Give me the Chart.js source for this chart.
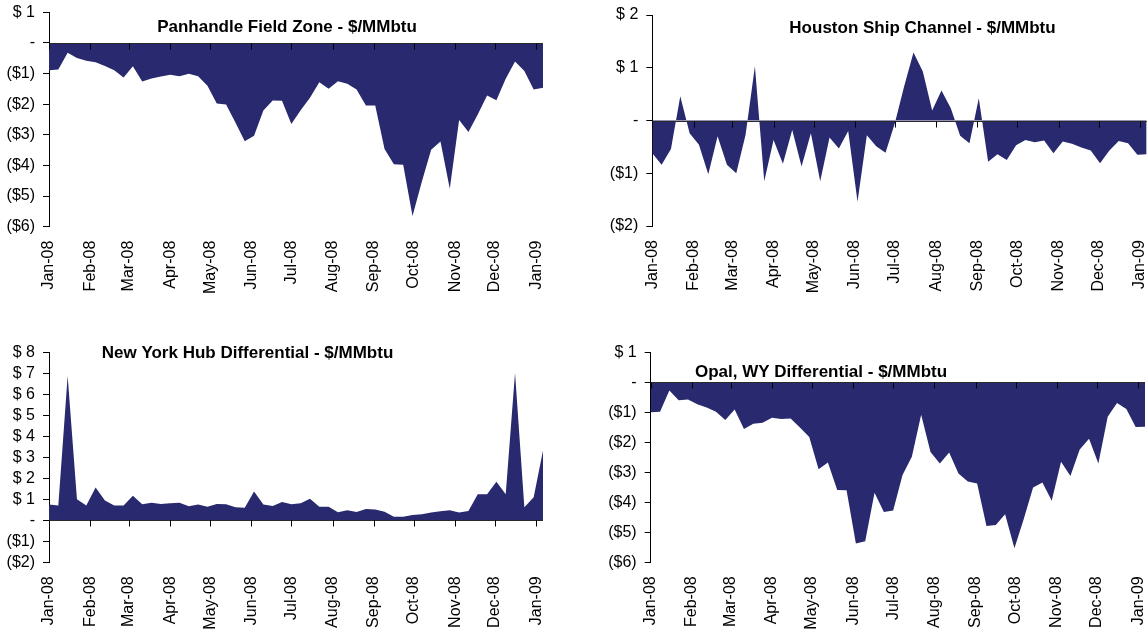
<!DOCTYPE html>
<html>
<head>
<meta charset="utf-8">
<script src="https://cdn.jsdelivr.net/npm/chart.js@4.4.1/dist/chart.umd.min.js"></script>
<style>
  html, body { margin: 0; padding: 0; background: #fff; }
  body { width: 1147px; height: 634px; position: relative; overflow: hidden; }
  canvas { position: absolute; }
</style>
</head>
<body>
<canvas id="panhandle"></canvas>
<canvas id="houston"></canvas>
<canvas id="nyhub"></canvas>
<canvas id="opal"></canvas>
<script>
// Weekly price differentials, $/MMbtu
const weekDates = [
  '2008-01-01','2008-01-08','2008-01-15','2008-01-22','2008-01-29',
  '2008-02-05','2008-02-12','2008-02-19','2008-02-26',
  '2008-03-04','2008-03-11','2008-03-18','2008-03-25',
  '2008-04-01','2008-04-08','2008-04-15','2008-04-22','2008-04-29',
  '2008-05-06','2008-05-13','2008-05-20','2008-05-27',
  '2008-06-03','2008-06-10','2008-06-17','2008-06-24',
  '2008-07-01','2008-07-08','2008-07-15','2008-07-22','2008-07-29',
  '2008-08-05','2008-08-12','2008-08-19','2008-08-26',
  '2008-09-02','2008-09-09','2008-09-16','2008-09-23','2008-09-30',
  '2008-10-07','2008-10-14','2008-10-21','2008-10-28',
  '2008-11-04','2008-11-11','2008-11-18','2008-11-25',
  '2008-12-02','2008-12-09','2008-12-16','2008-12-23','2008-12-30',
  '2009-01-06'
];

const monthDates = ['2008-01-01','2008-02-01','2008-03-01','2008-04-01','2008-05-01','2008-06-01',
  '2008-07-01','2008-08-01','2008-09-01','2008-10-01','2008-11-01','2008-12-01','2009-01-01'];
const monthLabels = ['Jan-08','Feb-08','Mar-08','Apr-08','May-08','Jun-08',
  'Jul-08','Aug-08','Sep-08','Oct-08','Nov-08','Dec-08','Jan-09'];

const panhandleValues = [
  -0.89,-0.87,-0.32,-0.49,-0.58,-0.63,-0.75,-0.89,-1.13,-0.76,
  -1.26,-1.16,-1.10,-1.04,-1.09,-1.01,-1.09,-1.40,-1.98,-2.01,
  -2.60,-3.21,-3.03,-2.21,-1.88,-1.89,-2.65,-2.20,-1.79,-1.28,
  -1.50,-1.25,-1.33,-1.52,-2.04,-2.04,-3.46,-3.96,-3.98,-5.65,
  -4.53,-3.49,-3.22,-4.76,-2.52,-2.91,-2.34,-1.72,-1.87,-1.17,
  -0.61,-0.92,-1.52,-1.46
];
const houstonValues = [
  -0.62,-0.84,-0.54,0.46,-0.24,-0.46,-1.02,-0.30,-0.84,-1.00,
  -0.27,1.03,-1.15,-0.37,-0.82,-0.18,-0.87,-0.24,-1.15,-0.32,
  -0.53,-0.20,-1.54,-0.28,-0.49,-0.61,-0.05,0.65,1.29,0.93,
  0.19,0.57,0.23,-0.29,-0.43,0.42,-0.78,-0.64,-0.75,-0.47,
  -0.37,-0.41,-0.38,-0.62,-0.40,-0.44,-0.51,-0.57,-0.81,-0.57,
  -0.39,-0.43,-0.65,-0.64
];
const nyHubValues = [
  0.75,0.70,6.87,1.00,0.70,1.56,0.94,0.70,0.70,1.17,
  0.76,0.84,0.78,0.81,0.84,0.67,0.75,0.65,0.78,0.76,
  0.62,0.60,1.37,0.75,0.68,0.87,0.76,0.81,1.03,0.65,
  0.65,0.38,0.48,0.40,0.54,0.52,0.41,0.17,0.17,0.25,
  0.29,0.37,0.43,0.48,0.37,0.44,1.24,1.24,1.83,1.24,
  7.03,0.62,1.10,3.32
];
const opalValues = [
  -1.00,-0.98,-0.27,-0.60,-0.57,-0.73,-0.84,-0.98,-1.26,-0.91,
  -1.56,-1.38,-1.35,-1.18,-1.22,-1.21,-1.51,-1.82,-2.90,-2.67,
  -3.59,-3.60,-5.37,-5.30,-3.68,-4.32,-4.27,-3.09,-2.48,-1.08,
  -2.32,-2.71,-2.34,-3.04,-3.31,-3.37,-4.79,-4.76,-4.40,-5.53,
  -4.56,-3.51,-3.34,-3.95,-2.65,-3.12,-2.24,-1.88,-2.71,-1.15,
  -0.69,-0.89,-1.49,-1.48
];

const FILL = '#28296e';
const FONT = "'Liberation Sans', Arial, Helvetica, sans-serif";
const DAY = 86400000;
const T0 = Date.parse(weekDates[0]);
const dayOf = d => (Date.parse(d) - T0) / DAY;
const monthDays = monthDates.map(dayOf);
const lastDay = dayOf(weekDates[weekDates.length - 1]);

function dollarLabel(v) {
  if (v === 0) return '-';
  return v > 0 ? '$ ' + v : '($' + Math.abs(v) + ')';
}

// Zero line with month tick marks, plus the in-plot title
const panelDecor = {
  id: 'panelDecor',
  afterDatasetsDraw(chart, args, opts) {
    const { ctx, chartArea, scales } = chart;
    const y0 = Math.round(scales.y.getPixelForValue(0)) + 0.5;
    ctx.save();
    ctx.strokeStyle = '#2a2a2a';
    ctx.lineWidth = 1.2;
    ctx.beginPath();
    ctx.moveTo(chartArea.left, y0);
    ctx.lineTo(chartArea.right, y0);
    ctx.stroke();
    ctx.strokeStyle = '#000';
    ctx.lineWidth = 1;
    ctx.beginPath();
    scales.x.ticks.forEach(t => {
      const x = Math.round(scales.x.getPixelForValue(t.value)) + 0.5;
      ctx.moveTo(x, y0);
      ctx.lineTo(x, y0 + 6);
    });
    ctx.stroke();
    ctx.restore();
  },
  afterDraw(chart, args, opts) {
    const { ctx } = chart;
    ctx.save();
    ctx.font = 'bold 17px ' + FONT;
    ctx.fillStyle = '#000';
    ctx.textAlign = 'center';
    ctx.textBaseline = 'alphabetic';
    ctx.fillText(opts.text, opts.x, opts.y);
    ctx.restore();
  }
};

function makePanel(id, box, area, yRange, values, title) {
  const canvas = document.getElementById(id);
  canvas.width = box.w;
  canvas.height = box.h;
  canvas.style.left = box.left + 'px';
  canvas.style.top = box.top + 'px';
  canvas.style.width = box.w + 'px';
  canvas.style.height = box.h + 'px';

  const yAxisW = area.left - box.left;
  const xAxisH = (box.top + box.h) - area.bottom;

  const points = weekDates.map((d, i) => ({ x: dayOf(d), y: values[i] }));

  new Chart(canvas, {
    type: 'line',
    data: {
      datasets: [{
        data: points,
        fill: 'origin',
        backgroundColor: FILL,
        borderColor: FILL,
        borderWidth: 0,
        pointRadius: 0,
        tension: 0
      }]
    },
    options: {
      responsive: false,
      animation: false,
      devicePixelRatio: 1,
      layout: {
        padding: {
          top: area.top - box.top,
          right: (box.left + box.w) - area.right,
          bottom: 0,
          left: 0
        }
      },
      plugins: {
        legend: { display: false },
        tooltip: { enabled: false },
        panelDecor: { text: title.text, x: title.x - box.left, y: title.y - box.top }
      },
      scales: {
        x: {
          type: 'linear',
          min: 0,
          max: lastDay,
          border: { display: false },
          grid: { display: false, drawTicks: false },
          afterBuildTicks: s => { s.ticks = monthDays.map(v => ({ value: v })); },
          afterFit: s => {
            s.height = xAxisH;
            s.paddingLeft = s.paddingRight = s.paddingTop = s.paddingBottom = 0;
          },
          ticks: {
            autoSkip: false,
            minRotation: 90,
            maxRotation: 90,
            padding: 14,
            color: '#000',
            font: { family: FONT, size: 16 },
            callback: (v, i) => monthLabels[i]
          }
        },
        y: {
          min: yRange[0],
          max: yRange[1],
          border: { display: true, color: '#000', width: 1 },
          grid: { drawOnChartArea: false, drawTicks: true, tickLength: 6, color: '#000', tickColor: '#000' },
          afterFit: s => {
            s.width = yAxisW;
            s.paddingLeft = s.paddingRight = s.paddingTop = s.paddingBottom = 0;
          },
          ticks: {
            stepSize: 1,
            autoSkip: false,
            padding: 8,
            color: '#000',
            font: { family: FONT, size: 16 },
            callback: v => dollarLabel(v)
          }
        }
      }
    },
    plugins: [panelDecor]
  });
}

makePanel('panhandle',
  { left: 0, top: 0, w: 560, h: 310 },
  { left: 49, right: 543, top: 12.3, bottom: 226.7 },
  [-6, 1], panhandleValues,
  { text: 'Panhandle Field Zone - $/MMbtu', x: 287, y: 31.5 });

makePanel('houston',
  { left: 574, top: 0, w: 573, h: 310 },
  { left: 652.3, right: 1146.7, top: 15, bottom: 226 },
  [-2, 2], houstonValues,
  { text: 'Houston Ship Channel - $/MMbtu', x: 922.5, y: 32.5 });

makePanel('nyhub',
  { left: 0, top: 320, w: 560, h: 314 },
  { left: 49, right: 543, top: 352.3, bottom: 562.3 },
  [-2, 8], nyHubValues,
  { text: 'New York Hub Differential - $/MMbtu', x: 247.5, y: 358.3 });

makePanel('opal',
  { left: 574, top: 320, w: 573, h: 314 },
  { left: 650.7, right: 1145, top: 352.3, bottom: 562.3 },
  [-6, 1], opalValues,
  { text: 'Opal, WY Differential - $/MMbtu', x: 821, y: 376.5 });
</script>
</body>
</html>
